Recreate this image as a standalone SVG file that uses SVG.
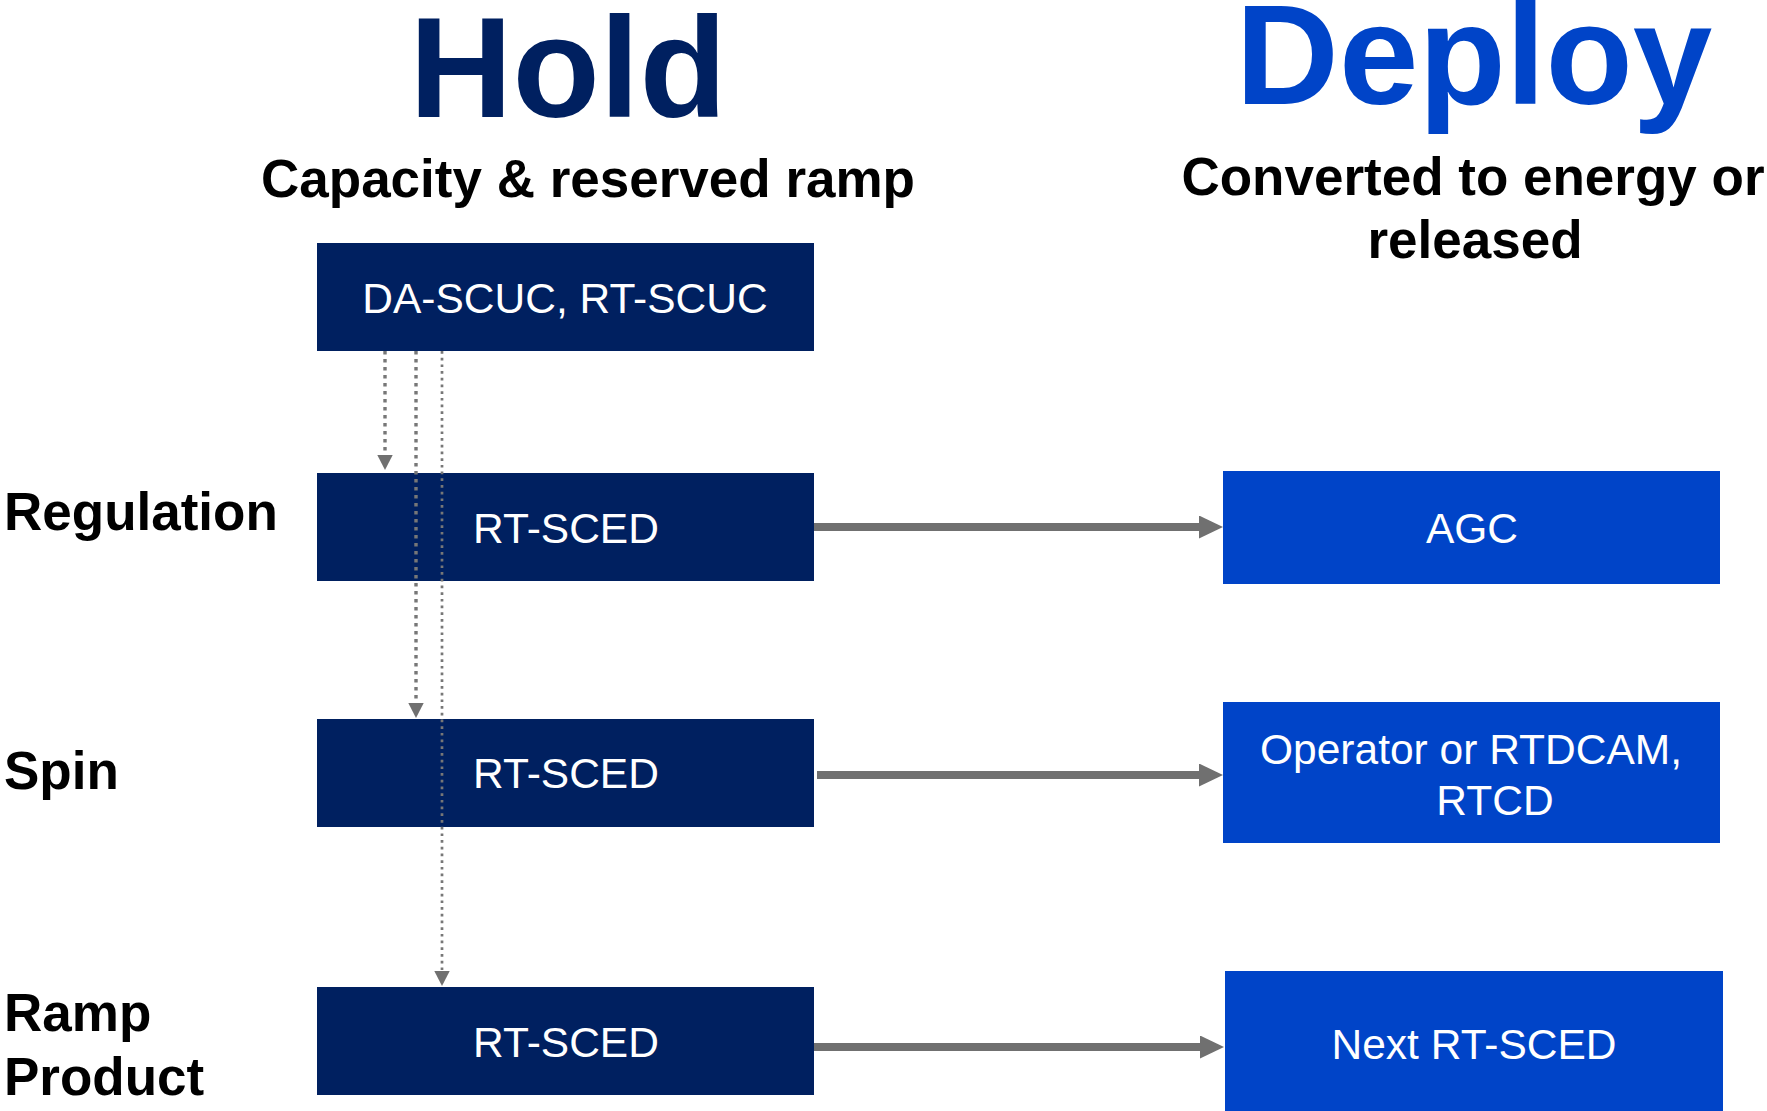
<svg xmlns="http://www.w3.org/2000/svg" width="1767" height="1111" viewBox="0 0 1767 1111">
<defs>
<style>
text{font-family:"Liberation Sans",Arial,sans-serif}
.title{font-size:143px;font-weight:bold;text-anchor:middle}
.sub{font-size:53px;font-weight:bold;fill:#000;text-anchor:middle}
.lbl{font-size:53px;font-weight:bold;fill:#000}
.bt{font-size:42.5px;fill:#fff;text-anchor:middle}
.hold{fill:#002060}
.dep{fill:#0044C8}
.solid{stroke:#707070;stroke-width:8;fill:none}
.dot{stroke:#777;stroke-width:3.4;stroke-dasharray:3.4 4.6;fill:none}
.dot2{stroke:#777;stroke-width:2.7;stroke-dasharray:2.7 4;fill:none}
</style>
<marker id="ah" markerUnits="userSpaceOnUse" markerWidth="24" markerHeight="23" refX="2" refY="11.5" orient="auto">
<path d="M0,0 L24,11.5 L0,23 Z" fill="#707070"/>
</marker>
<marker id="dh" markerUnits="userSpaceOnUse" markerWidth="15" markerHeight="16" refX="0" refY="7.7" orient="auto">
<path d="M0,0 L15,7.7 L0,15.4 Z" fill="#707070"/>
</marker>
</defs>
<rect width="1767" height="1111" fill="#fff"/>
<g id="headers">
<text class="title hold" x="568" y="117">Hold</text>
<text class="title" x="1474" y="104" style="fill:#0044C8">Deploy</text>
<text class="sub" x="588" y="197">Capacity &amp; reserved ramp</text>
<text class="sub" x="1473" y="195">Converted to energy or</text>
<text class="sub" x="1475" y="258">released</text>
</g>
<g id="labels">
<text class="lbl" x="4" y="530">Regulation</text>
<text class="lbl" x="4" y="789">Spin</text>
<text class="lbl" x="4" y="1031">Ramp</text>
<text class="lbl" x="4" y="1095">Product</text>
</g>
<g id="node-scuc">
<rect class="hold" x="317" y="243" width="497" height="108"/>
<text class="bt" x="565" y="313">DA-SCUC, RT-SCUC</text>
</g>
<g id="node-sced-reg">
<rect class="hold" x="317" y="473" width="497" height="108"/>
<text class="bt" x="566" y="543">RT-SCED</text>
</g>
<g id="node-sced-spin">
<rect class="hold" x="317" y="719" width="497" height="108"/>
<text class="bt" x="566" y="788">RT-SCED</text>
</g>
<g id="node-sced-ramp">
<rect class="hold" x="317" y="987" width="497" height="108"/>
<text class="bt" x="566" y="1057">RT-SCED</text>
</g>
<g id="node-agc">
<rect class="dep" x="1223" y="471" width="497" height="113"/>
<text class="bt" x="1472" y="543">AGC</text>
</g>
<g id="node-operator">
<rect class="dep" x="1223" y="702" width="497" height="141"/>
<text class="bt" x="1471" y="764">Operator or RTDCAM,</text>
<text class="bt" x="1495" y="815">RTCD</text>
</g>
<g id="node-next">
<rect class="dep" x="1225" y="971" width="498" height="140"/>
<text class="bt" x="1474" y="1059">Next RT-SCED</text>
</g>
<g id="connectors">
<line class="dot" x1="385" y1="351" x2="385" y2="455" marker-end="url(#dh)"/>
<line class="dot" x1="416" y1="351" x2="416" y2="703" marker-end="url(#dh)"/>
<line class="dot2" x1="442" y1="351" x2="442" y2="971" marker-end="url(#dh)"/>
<line class="solid" x1="814" y1="527" x2="1201" y2="527" marker-end="url(#ah)"/>
<line class="solid" x1="817" y1="775" x2="1201" y2="775" marker-end="url(#ah)"/>
<line class="solid" x1="814" y1="1047" x2="1202" y2="1047" marker-end="url(#ah)"/>
</g>
</svg>
